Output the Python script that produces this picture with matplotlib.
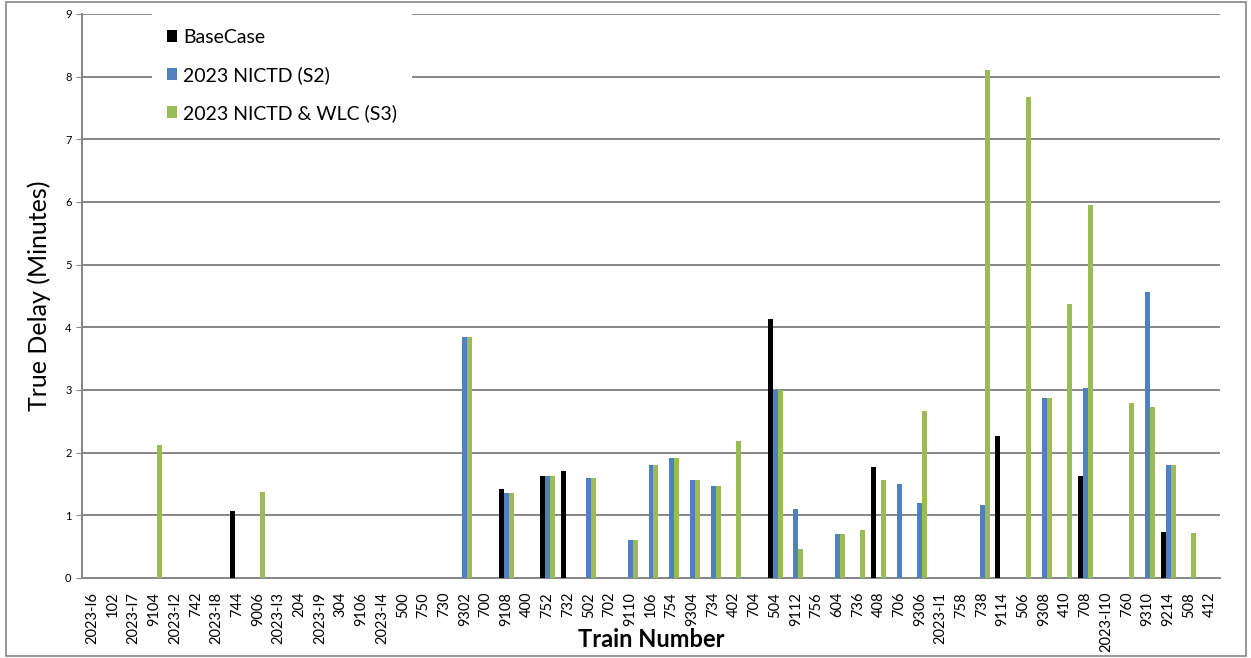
import numpy as np
import matplotlib
matplotlib.use("Agg")
import matplotlib.pyplot as plt
from matplotlib.patches import Rectangle

plt.rcParams['font.family'] = ['Lato', 'DejaVu Sans']

# train numbers along the x axis
trains = ["2023-I6", "102", "2023-I7", "9104", "2023-I2", "742", "2023-I8", "744",
          "9006", "2023-I3", "204", "2023-I9", "304", "9106", "2023-I4", "500",
          "750", "730", "9302", "700", "9108", "400", "752", "732", "502", "702",
          "9110", "106", "754", "9304", "734", "402", "704", "504", "9112", "756",
          "604", "736", "408", "706", "9306", "2023-I1", "758", "738", "9114",
          "506", "9308", "410", "708", "2023-I10", "760", "9310", "9214", "508",
          "412"]

# true delay in minutes per scenario (0 = no delay)
base_case = {"744": 1.07, "9108": 1.42, "752": 1.63, "732": 1.70, "504": 4.13,
             "408": 1.77, "9114": 2.27, "708": 1.63, "9214": 0.73}
nictd_s2 = {"9302": 3.85, "9108": 1.35, "752": 1.63, "502": 1.60, "9110": 0.60,
            "106": 1.80, "754": 1.92, "9304": 1.57, "734": 1.47, "504": 3.00,
            "9112": 1.10, "604": 0.70, "706": 1.50, "9306": 1.20, "738": 1.17,
            "9308": 2.87, "708": 3.03, "9310": 4.57, "9214": 1.80}
nictd_wlc_s3 = {"9104": 2.12, "9006": 1.37, "9302": 3.85, "9108": 1.35,
                "752": 1.63, "502": 1.60, "9110": 0.60, "106": 1.80, "754": 1.92,
                "9304": 1.57, "734": 1.47, "402": 2.18, "504": 3.00, "9112": 0.47,
                "604": 0.70, "736": 0.77, "408": 1.57, "9306": 2.67, "738": 8.10,
                "506": 7.67, "9308": 2.87, "410": 4.38, "708": 5.95, "760": 2.80,
                "9310": 2.73, "9214": 1.80, "508": 0.72}

series = [("BaseCase", base_case, "#000000"),
          ("2023 NICTD (S2)", nictd_s2, "#4F81BD"),
          ("2023 NICTD & WLC (S3)", nictd_wlc_s3, "#9BBB59")]

fig = plt.figure(figsize=(12.51, 6.58), dpi=100)
ax = fig.add_axes([82 / 1251, 1 - 578 / 658, 1138 / 1251, 564 / 658])

x = np.arange(len(trains))
w = 0.24
for i, (name, vals, col) in enumerate(series):
    h = [vals.get(t, 0) for t in trains]
    ax.bar(x + (i - 1) * w, h, width=w, color=col, label=name, zorder=3)

ax.set_xlim(-0.5, len(trains) - 0.5)
ax.set_ylim(0, 9)
ax.set_yticks(range(10))
ax.set_xticks(x)
ax.set_xticklabels(trains, rotation=90, fontsize=10.5)
ax.tick_params(axis='y', labelsize=8, length=4, color='#868686')
ax.tick_params(axis='x', length=0, pad=10)
ax.grid(axis='y', color='#868686', linewidth=1.4, zorder=0)

for s in ['top', 'right']:
    ax.spines[s].set_visible(False)
for s in ['left', 'bottom']:
    ax.spines[s].set_color('#868686')
    ax.spines[s].set_linewidth(1.4)

ax.set_ylabel("True Delay (Minutes)", fontsize=18)
ax.yaxis.set_label_coords(-0.027, 0.5)
ax.set_xlabel("Train Number", fontsize=17, fontweight='bold')
ax.xaxis.set_label_coords(0.5, -0.088)

leg = ax.legend(loc='upper left', bbox_to_anchor=(0.0615, 1.0), fontsize=14,
                frameon=True, facecolor='white', edgecolor='none', framealpha=1,
                fancybox=False, handlelength=0.55, handleheight=0.55,
                handletextpad=0.3, labelspacing=1.05, borderpad=0.75,
                borderaxespad=0)
leg.set_zorder(5)

# outer chart border
fig.patches.append(Rectangle((6 / 1251, 2 / 658), 1240 / 1251, 654 / 658,
                             transform=fig.transFigure, fill=False,
                             edgecolor='#868686', linewidth=1.2))

fig.savefig("out.png", dpi=100)
